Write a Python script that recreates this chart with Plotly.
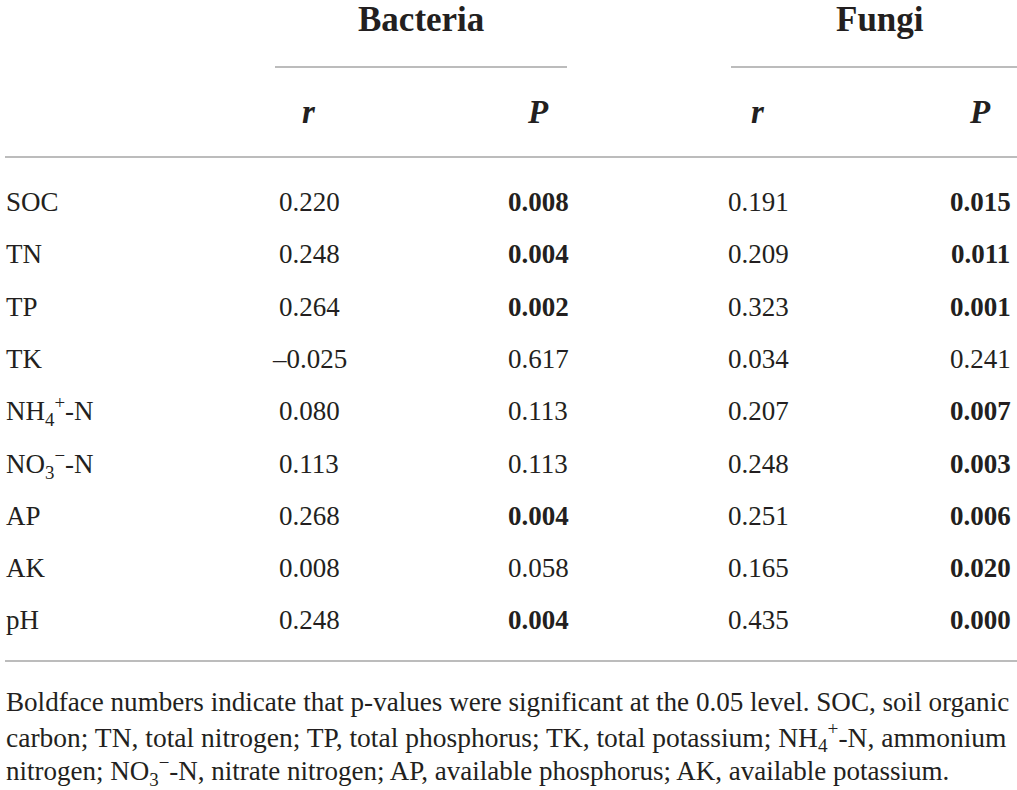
import plotly.graph_objects as go

# table values
factors = ["SOC", "TN", "TP", "TK", "NH<sub>4</sub><sup>+</sup>-N", "NO<sub>3</sub><sup>−</sup>-N", "AP", "AK", "pH"]
bacteria_r = ["0.220", "0.248", "0.264", "–0.025", "0.080", "0.113", "0.268", "0.008", "0.248"]
bacteria_p = ["0.008", "0.004", "0.002", "0.617", "0.113", "0.113", "0.004", "0.058", "0.004"]
fungi_r = ["0.191", "0.209", "0.323", "0.034", "0.207", "0.248", "0.251", "0.165", "0.435"]
fungi_p = ["0.015", "0.011", "0.001", "0.241", "0.007", "0.003", "0.006", "0.020", "0.000"]
groups = ["Bacteria", "Fungi"]
sub_headers = ["r", "P"]
footnote = [
    "Boldface numbers indicate that p-values were significant at the 0.05 level. SOC, soil organic",
    "carbon; TN, total nitrogen; TP, total phosphorus; TK, total potassium; NH<sub>4</sub><sup>+</sup>-N, ammonium",
    "nitrogen; NO<sub>3</sub><sup>−</sup>-N, nitrate nitrogen; AP, available phosphorus; AK, available potassium.",
]
alpha = 0.05

W, H = 1017, 790
FONT = "Liberation Serif, Times New Roman, serif"
TXT = "#231f20"
RULE = "#a6a6a6"

group_x = [421, 880]
col_x = [309, 538, 758, 980]
group_line = [(275, 567), (731, 1017)]
row_y0, row_h = 202, 52.3

fig = go.Figure()
fig.add_trace(go.Scatter(x=[0, W], y=[0, H], mode="markers", marker=dict(opacity=0), hoverinfo="skip"))

ann = []
for gx, g in zip(group_x, groups):
    ann.append(dict(x=gx, y=19, text=f"<b>{g}</b>", font=dict(size=35)))
for i, cx in enumerate(col_x):
    ann.append(dict(x=cx, y=112, text=f"<b><i>{sub_headers[i % 2]}</i></b>", font=dict(size=33)))

for i, name in enumerate(factors):
    y = row_y0 + i * row_h
    ann.append(dict(x=5, y=y, text=name, xanchor="left"))
    cols = [bacteria_r[i], bacteria_p[i], fungi_r[i], fungi_p[i]]
    for j, (cx, v) in enumerate(zip(col_x, cols)):
        if j % 2 == 1 and float(v) < alpha:
            v = f"<b>{v}</b>"
        ann.append(dict(x=cx, y=y, text=v))

# widths tuned so lines 1-2 reach the right edge like the justified original
foot_size = [27.1, 27.5, 27.0]
for k, line in enumerate(footnote):
    ann.append(dict(x=5, y=702 + k * 34.5, text=line, xanchor="left", font=dict(size=foot_size[k])))

for a in ann:
    a.setdefault("xanchor", "center")
    a["yanchor"] = "middle"
    a["showarrow"] = False
    a["borderpad"] = 0
    a["xref"] = "x"
    a["yref"] = "y"
    f = a.setdefault("font", {})
    f.setdefault("size", 27)
    f["family"] = FONT
    f["color"] = TXT

shapes = []
for x0, x1 in group_line:
    shapes.append(dict(type="line", x0=x0, x1=x1, y0=67, y1=67, line=dict(color=RULE, width=1.5)))
for yy in [157, 661]:
    shapes.append(dict(type="line", x0=5, x1=W, y0=yy, y1=yy, line=dict(color=RULE, width=1.5)))

fig.update_layout(
    width=W,
    height=H,
    annotations=ann,
    shapes=shapes,
    margin=dict(l=0, r=0, t=0, b=0),
    plot_bgcolor="white",
    paper_bgcolor="white",
    showlegend=False,
    xaxis=dict(range=[0, W], visible=False, fixedrange=True),
    yaxis=dict(range=[H, 0], visible=False, fixedrange=True),
)

fig.write_html(
    "out.html",
    config={"displayModeBar": False},
    post_script="document.body.style.margin='0';document.documentElement.style.overflow='hidden';",
)
